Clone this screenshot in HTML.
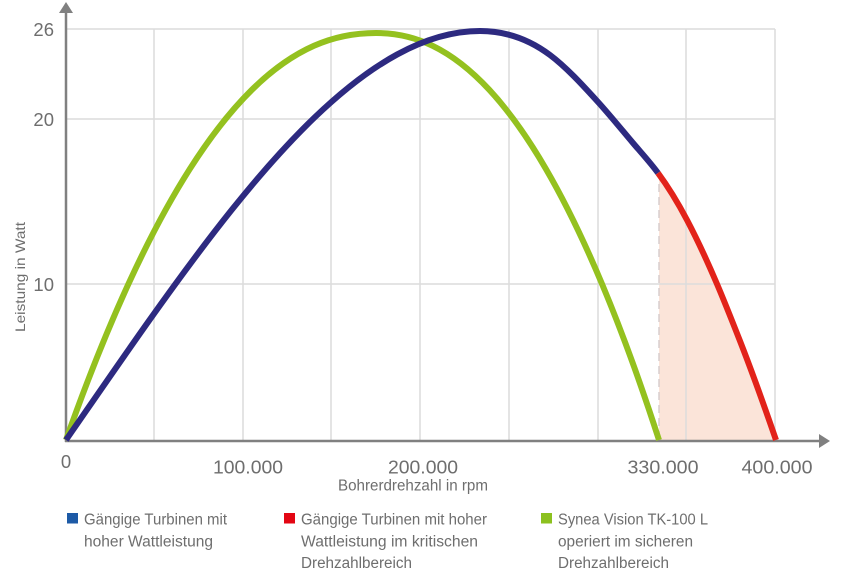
<!DOCTYPE html>
<html>
<head>
<meta charset="utf-8">
<style>
  html,body{margin:0;padding:0;background:#fff;}
  body{width:857px;height:570px;overflow:hidden;}
  svg{display:block;}
  text{font-family:"Liberation Sans",sans-serif;fill:#6e6e6e;}
</style>
</head>
<body>
<svg width="857" height="570" viewBox="0 0 857 570" xmlns="http://www.w3.org/2000/svg">
  <!-- red zone fill -->
  <path d="M659,440 L659,175 C667.7,186 677.3,201.6 687,220 C697,239 707,260.5 717,284 C724.7,302 732.3,321.4 740,341 C752,371.6 764,405.2 776,440 Z" fill="#fbe4d9"/>

  <!-- grid -->
  <g stroke="#dcdcdc" stroke-width="1.5" fill="none">
    <line x1="66" y1="29" x2="775" y2="29"/>
    <line x1="66" y1="119" x2="775" y2="119"/>
    <line x1="66" y1="284" x2="775" y2="284"/>
    <line x1="154" y1="29" x2="154" y2="441"/>
    <line x1="243" y1="29" x2="243" y2="441"/>
    <line x1="331" y1="29" x2="331" y2="441"/>
    <line x1="420" y1="29" x2="420" y2="441"/>
    <line x1="509" y1="29" x2="509" y2="441"/>
    <line x1="598" y1="29" x2="598" y2="441"/>
    <line x1="686" y1="29" x2="686" y2="441"/>
    <line x1="775" y1="29" x2="775" y2="441"/>
  </g>

  <!-- dashed limit -->
  <line x1="659" y1="184" x2="659" y2="440" stroke="#d8cdcd" stroke-width="1.5" stroke-dasharray="8 5"/>

  <!-- axes -->
  <g stroke="#808080" stroke-width="2.5" fill="none">
    <line x1="66" y1="442" x2="66" y2="10"/>
    <line x1="65" y1="441" x2="821" y2="441"/>
  </g>
  <polygon points="66,2 59,13 73,13" fill="#808080"/>
  <polygon points="830,441 819,434 819,448" fill="#808080"/>

  <!-- green curve -->
  <path d="M66,440 C86.67,381.66 107.33,330.04 128,284.9 C148.67,239.76 169.33,201.13 190,168.7 C210.67,136.27 231.33,110.04 252,89.7 C272.67,69.36 293.33,54.97 314,45.8 C334.67,36.63 355.33,33 376,33 C394.87,33 413.73,36.63 432.6,45.8 C451.47,54.97 470.33,69.36 489.2,89.7 C508.07,110.04 526.93,136.28 545.8,168.7 C564.67,201.12 583.53,239.76 602.4,284.9 C621.27,330.04 640.13,381.66 659,440" fill="none" stroke="#94c11f" stroke-width="6" stroke-linecap="butt" stroke-linejoin="round"/>

  <!-- blue curve -->
  <path d="M66,440 C93.6,400.19 121.2,359.95 148.8,321.03 C176.4,282.11 204,244.53 231.6,210.04 C259.2,175.55 286.8,144.17 314.4,117.64 C342,91.11 369.6,69.46 397.2,54.43 C424.8,39.4 452.4,31 480,31 C503.33,31 526.67,37.5 550,55 C566,67 582,84.4 598,102 C609.67,114.83 621.33,129.23 633,143 C641.33,152.83 649.67,161.75 658,173" fill="none" stroke="#2d2a80" stroke-width="6" stroke-linecap="butt" stroke-linejoin="round"/>

  <!-- red curve -->
  <path d="M658,173 C667.67,186.05 677.33,201.63 687,220 C697,239 707,260.5 717,284 C724.67,302.02 732.33,321.44 740,341 C752,371.6 764,405.2 776,440" fill="none" stroke="#e2231a" stroke-width="6" stroke-linecap="butt" stroke-linejoin="round"/>

  <!-- y tick labels -->
  <g font-size="18.5" text-anchor="end">
    <text x="54" y="35.8">26</text>
    <text x="54" y="125.8">20</text>
    <text x="54" y="291">10</text>
  </g>

  <!-- x tick labels -->
  <g font-size="18.5" text-anchor="middle">
    <text x="66" y="468">0</text>
    <text x="248" y="473.5" textLength="70" lengthAdjust="spacingAndGlyphs">100.000</text>
    <text x="423" y="473.5" textLength="70" lengthAdjust="spacingAndGlyphs">200.000</text>
    <text x="663" y="473.5" textLength="71" lengthAdjust="spacingAndGlyphs">330.000</text>
    <text x="777" y="473.5" textLength="71" lengthAdjust="spacingAndGlyphs">400.000</text>
  </g>

  <!-- axis titles -->
  <text x="413" y="490.5" font-size="15.5" text-anchor="middle" textLength="150" lengthAdjust="spacingAndGlyphs">Bohrerdrehzahl in rpm</text>
  <text transform="translate(25,277) rotate(-90)" font-size="14" text-anchor="middle" textLength="110" lengthAdjust="spacingAndGlyphs">Leistung in Watt</text>

  <!-- legend -->
  <rect x="67" y="513" width="11" height="10.5" fill="#1d5aa6"/>
  <rect x="284" y="513" width="11" height="10.5" fill="#e30613"/>
  <rect x="541" y="513" width="11" height="10.5" fill="#8cc11f"/>
  <g font-size="15.3">
    <text x="84" y="524.3" textLength="143" lengthAdjust="spacingAndGlyphs">Gängige Turbinen mit</text>
    <text x="84" y="546.3" textLength="129" lengthAdjust="spacingAndGlyphs">hoher Wattleistung</text>
    <text x="301" y="524.3" textLength="186" lengthAdjust="spacingAndGlyphs">Gängige Turbinen mit hoher</text>
    <text x="301" y="546.3" textLength="177" lengthAdjust="spacingAndGlyphs">Wattleistung im kritischen</text>
    <text x="301" y="568" textLength="111" lengthAdjust="spacingAndGlyphs">Drehzahlbereich</text>
    <text x="558" y="524.3" textLength="150" lengthAdjust="spacingAndGlyphs">Synea Vision TK-100 L</text>
    <text x="558" y="546.3" textLength="135" lengthAdjust="spacingAndGlyphs">operiert im sicheren</text>
    <text x="558" y="568" textLength="111" lengthAdjust="spacingAndGlyphs">Drehzahlbereich</text>
  </g>
</svg>
</body>
</html>
